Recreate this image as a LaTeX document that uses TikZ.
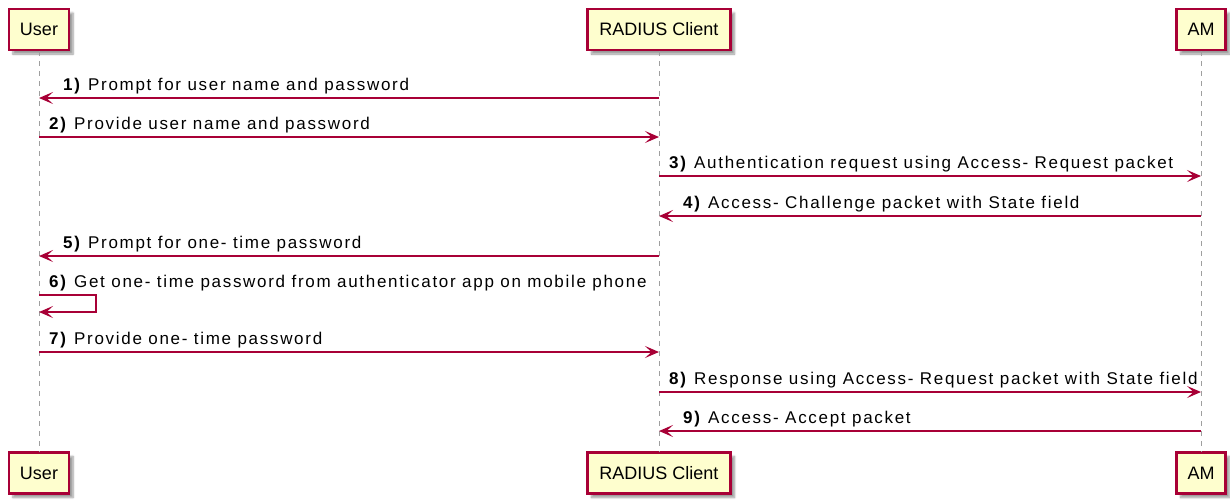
\documentclass[tikz,border=0pt]{standalone}
\usepackage{fontspec}
\setmainfont{Liberation Sans}
\usetikzlibrary{arrows.meta,shadows.blur}
\definecolor{pumlred}{HTML}{A80036}
\definecolor{pumlfill}{HTML}{FEFECE}
\newfontfamily\msgfont[LetterSpace=10]{Liberation Sans}
\tikzset{
  participant/.style={draw=pumlred, line width=2.2pt, fill=pumlfill,
    minimum height=41pt, inner sep=0pt, font=\fontsize{18}{20}\selectfont,
    blur shadow={shadow xshift=4pt, shadow yshift=-4pt, shadow blur steps=6, shadow opacity=40}},
  lifeline/.style={draw=gray!75, line width=1pt, dash pattern=on 5pt off 5pt},
  msg/.style={draw=pumlred, line width=2pt, -{Stealth[length=14pt,width=12pt,inset=6.5pt]}},
  msglabel/.style={anchor=base west, inner sep=0pt, font=\fontsize{17}{19}\msgfont}
}
\begin{document}
\begin{tikzpicture}[x=1pt,y=-1pt]
\useasboundingbox (0,0) rectangle (1230,501);
% participants top
\node[participant, minimum width=60pt] (ut) at (39,29.5) {User};
\node[participant, minimum width=143pt] (ct) at (659,29.5) {RADIUS Client};
\node[participant, minimum width=49pt] (at) at (1201,29.5) {AM};
% participants bottom
\node[participant, minimum width=60pt] (ub) at (39,473) {User};
\node[participant, minimum width=143pt] (cb) at (659,473) {RADIUS Client};
\node[participant, minimum width=49pt] (ab) at (1201,473) {AM};
% lifelines
\draw[lifeline] (ut.south) -- (ub.north);
\draw[lifeline] (ct.south) -- (cb.north);
\draw[lifeline] (at.south) -- (ab.north);
% message anchor points
\foreach \n/\y in {1/98,2/137,3/176,4/216,5/256,7/352,8/392,9/431}{
  \coordinate (u\n) at (39,\y);
  \coordinate (c\n) at (659,\y);
  \coordinate (a\n) at (1201,\y);
}
\coordinate (u6a) at (39,295);
\coordinate (s6a) at (96,295);
\coordinate (s6b) at (96,312);
\coordinate (u6b) at (39,312);
% messages
\draw[msg] (c1) -- (u1);
\draw[msg] (u2) -- (c2);
\draw[msg] (c3) -- (a3);
\draw[msg] (a4) -- (c4);
\draw[msg] (c5) -- (u5);
\draw[msg] (u6a) -- (s6a) -- (s6b) -- (u6b);
\draw[msg] (u7) -- (c7);
\draw[msg] (c8) -- (a8);
\draw[msg] (a9) -- (c9);
% labels
\node[msglabel] (l1) at (63,90) {\textbf{1)} Prompt for user name and password};
\node[msglabel] (l2) at (49,129) {\textbf{2)} Provide user name and password};
\node[msglabel] (l3) at (669,168) {\textbf{3)} Authentication request using Access- Request packet};
\node[msglabel] (l4) at (683,208) {\textbf{4)} Access- Challenge packet with State field};
\node[msglabel] (l5) at (63,248) {\textbf{5)} Prompt for one- time password};
\node[msglabel] (l6) at (49,287) {\textbf{6)} Get one- time password from authenticator app on mobile phone};
\node[msglabel] (l7) at (49,344) {\textbf{7)} Provide one- time password};
\node[msglabel] (l8) at (669,384) {\textbf{8)} Response using Access- Request packet with State field};
\node[msglabel] (l9) at (683,423) {\textbf{9)} Access- Accept packet};
\end{tikzpicture}
\end{document}
